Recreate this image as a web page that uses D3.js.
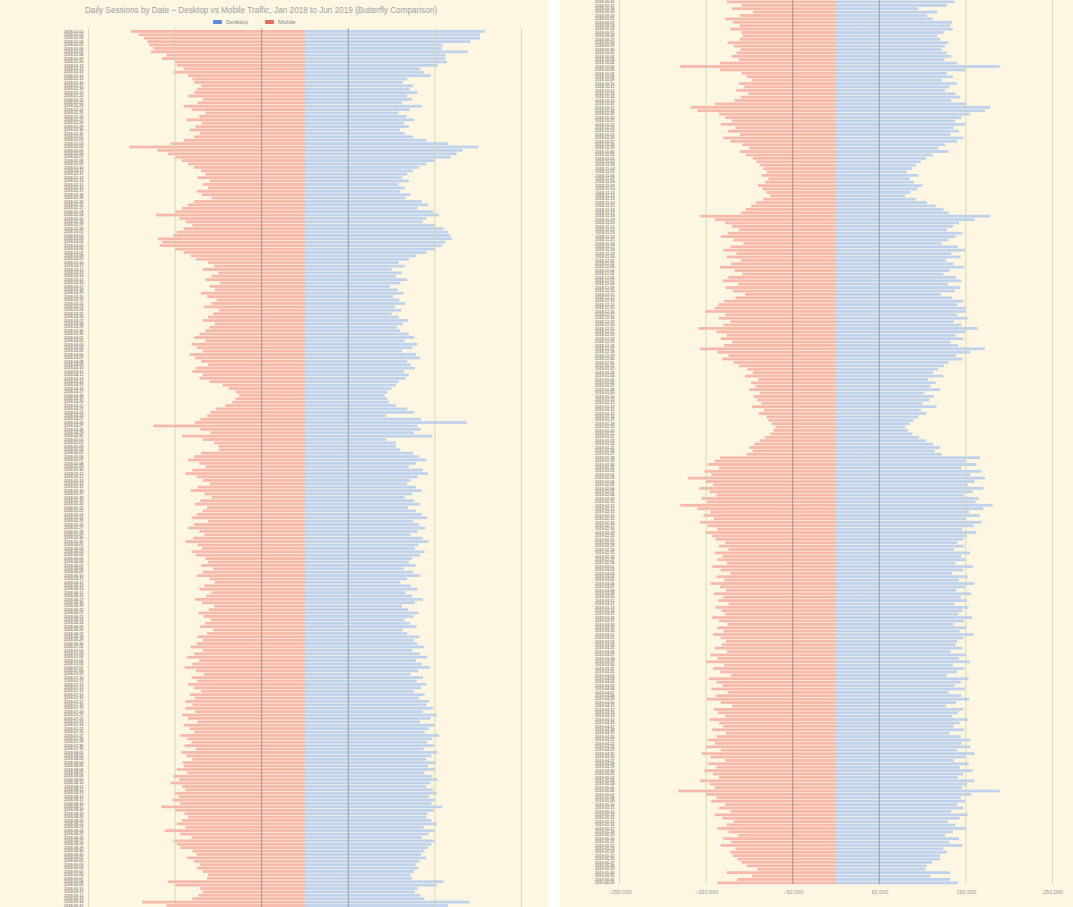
<!DOCTYPE html>
<html>
<head>
<meta charset="utf-8">
<script src="https://cdn.jsdelivr.net/npm/d3@7"></script>
<style>
    body { margin: 0; background: #ffffff; }
    #wrap { position: relative; width: 1073px; height: 907px; overflow: hidden; }
    #wrap svg { position: absolute; top: 0; }
    text { font-family: "Liberation Sans", Arial, sans-serif; }
</style>
</head>
<body>
<div id="wrap">
    <svg id="left" style="left:0"></svg>
    <svg id="right" style="left:560px"></svg>
</div>
<script>
// chart title and series names
var title = 'Daily Sessions by Date \u2013 Desktop vs Mobile Traffic, Jan 2018 to Jun 2019 (Butterfly Comparison)';
var seriesNames = ['Desktop', 'Mobile'];
var firstDay = '2018-01-01';

// values in thousands of sessions per day (blue, right side)
var desktop = [
    208, 202, 202, 191, 159, 158, 188, 162, 162, 164, 153, 133, 137, 145, 118, 113, 125, 121,
    130, 118, 124, 112, 135, 121, 108, 117, 126, 114, 120, 110,
    115, 125, 140, 165, 200, 182,
    175, 168, 150, 140, 132, 125, 118, 112, 120, 108, 115, 110, 122, 116,
    135, 142, 130, 148, 155, 140, 136, 150, 160, 165, 168, 170, 162, 158, 150, 140, 128, 120,
    108, 115, 100, 112, 105, 118, 110, 98, 107, 114, 102, 109, 116, 104, 111, 100, 108, 119, 113, 106, 110,
    120, 126, 115, 130, 124, 112, 128, 133, 118, 122, 127, 114, 120, 116, 108,
    105, 100, 95, 92, 95,
    97, 105, 118, 126, 94, 134, 187, 130, 134, 126, 147, 94, 105, 105, 110,
    125, 132, 140, 128, 120, 136, 142, 130, 122, 118, 128, 135, 124, 115, 126, 133, 119,
    128, 135, 141, 125, 132, 139, 130, 122, 136, 143, 131, 127, 138, 133, 124,
    120, 128, 114, 125, 133, 118, 110, 122, 130, 116, 124, 136, 127, 112, 119, 131, 125, 115, 121, 129, 113, 118, 132, 126,
    130, 137, 124, 133, 141, 128, 135, 144, 131, 122, 136, 129, 140, 134, 126, 138, 132, 143,
    140, 148, 136, 152, 145, 133, 150, 143, 138, 155, 147, 141, 149, 137, 153, 146, 140, 151,
    142, 150, 138, 147, 153, 145, 140, 148, 152, 143, 150, 146, 158, 149, 141,
    140, 146, 152, 137, 150, 143, 135,
    150, 146, 142, 138, 134, 140, 132, 128, 131, 126, 122, 124, 160, 152, 130, 127, 133, 138, 190, 165,
    137, 128, 95, 117, 105, 112, 134, 132, 135, 124, 117, 120, 130, 126, 122, 128, 133, 125,
    140, 189, 150,
    128, 135, 122, 140, 131, 126, 138, 143, 133,
    150, 178, 172, 155,
    145, 138, 149, 136, 142, 132, 147, 140,
    126, 118, 130, 112, 104, 98, 92, 88, 82, 95, 85, 90, 100, 94, 86, 80, 92, 105, 115, 124, 130,
    178, 160,
    142, 135, 128, 146, 138, 130, 122, 141, 149, 133, 144, 127, 136, 148, 131, 124, 139, 145, 129, 143, 137, 121, 134, 147, 140,
    150, 149, 140, 152, 136, 145, 164, 150, 138, 147, 132, 141, 172, 155, 139, 146, 130, 125,
    118, 112, 124, 106, 115, 109, 120, 102, 113, 108, 100, 116, 98, 104, 95, 90, 85, 80, 83, 88, 96, 104, 112, 120, 114, 122, 166,
    150, 162, 145, 168, 155, 172, 160, 152, 170, 158, 148, 165, 161, 181, 170, 154, 166, 150, 168, 159, 146, 162, 151, 147,
    140, 148, 136, 155, 145, 150, 138, 158, 147, 134, 152, 142, 160, 149, 139, 156, 144, 151, 137, 153, 146, 141, 157, 148, 136, 150, 143, 159, 147, 140,
    138, 146, 132, 150, 142, 155, 135, 148, 140, 128, 153, 144, 137, 149, 130, 145, 154, 139, 127, 147, 141, 134, 152, 143, 136, 148, 131, 144, 155,
    145, 155, 140, 160, 150, 136, 153, 143, 158, 147, 141, 160, 151, 146, 189, 156, 144, 149,
    140, 147, 133, 152, 143, 129, 138, 150, 135, 126, 142, 131, 146, 124,
    128, 120, 120, 111, 105, 103, 132, 109, 132, 141
];

// values in thousands of sessions per day (red, left side)
var mobile = [
    201, 192, 186, 182, 180, 175, 178, 160, 165, 150, 148, 140, 152, 135, 130, 128, 120, 125,
    128, 135, 118, 124, 140, 131, 115, 122, 137, 119, 126, 133,
    121, 128, 140, 155, 203, 170,
    158, 150, 142, 135, 128, 120, 115, 124, 110, 118, 112, 125, 119, 108,
    128, 135, 142, 150, 172, 145, 138, 130, 140, 148, 152, 170, 165, 168, 150, 140, 132, 126,
    112, 105, 118, 100, 108, 115, 98, 110, 104, 120, 113, 102, 108, 117, 99, 106, 112, 118, 104, 110, 115,
    122, 128, 115, 131, 125, 118, 133, 127, 120, 112, 126, 130, 118, 122, 110,
    95, 88, 80, 76, 80,
    84, 92, 103, 109, 113, 121, 127, 175, 121, 109, 142, 118, 105, 100, 99,
    120, 128, 135, 122, 115, 130, 138, 125, 118, 110, 124, 132, 116, 108, 121, 127, 113,
    118, 125, 131, 112, 128, 135, 122, 116, 129, 138, 124, 119, 131, 126, 115,
    112, 120, 106, 118, 125, 110, 104, 116, 122, 108, 114, 127, 119, 105, 111, 123, 117, 109, 115, 121, 106, 113, 124, 118,
    125, 132, 118, 128, 136, 122, 130, 139, 126, 117, 131, 124, 135, 128, 120, 133, 127, 138,
    130, 138, 127, 142, 135, 124, 140, 133, 128, 144, 136, 131, 139, 126, 143, 137, 130, 141,
    140, 148, 136, 152, 145, 155, 142, 138, 150, 146, 153, 144, 166, 150, 139,
    135, 142, 148, 138, 162, 144, 131,
    152, 148, 144, 130, 125, 136, 128, 121, 125, 118, 112, 113, 158, 150, 121, 118, 123, 130, 188, 160,
    126, 109, 120, 96, 111, 128, 119, 111, 122, 109, 108, 111, 125, 118, 110, 115, 120, 112,
    134, 180, 134,
    109, 103, 97, 112, 106, 115, 101, 110, 117,
    140, 168, 160, 135,
    128, 120, 133, 116, 125, 111, 130, 122,
    108, 100, 111, 104, 96, 92, 88, 84, 80, 86, 78, 82, 90, 85, 80, 76, 84, 92, 98, 104, 110,
    157, 140,
    128, 120, 112, 125, 133, 118, 107, 122, 130, 115, 126, 110, 121, 134, 117, 108, 124, 131, 113, 127, 119, 105, 116, 129, 136,
    140, 151, 128, 135, 122, 130, 159, 138, 126, 133, 120, 129, 157, 137, 124, 131, 118, 112,
    102, 96, 105, 90, 98, 93, 100, 88, 95, 91, 86, 97, 83, 89, 80, 78, 74, 70, 72, 76, 82, 88, 94, 100, 96, 103, 134,
    140, 148, 135, 152, 144, 171, 150, 142, 158, 146, 138, 155, 149, 180, 160, 145, 153, 141, 157, 148, 137, 150, 143, 139,
    128, 135, 124, 140, 131, 137, 126, 143, 133, 122, 138, 129, 145, 134, 127, 141, 130, 136, 124, 139, 132, 128, 143, 135, 125, 137, 130, 142, 133, 127,
    132, 140, 126, 145, 137, 150, 129, 142, 134, 121, 147, 138, 131, 144, 125, 139, 149, 133, 120, 141, 136, 128, 146, 135, 130, 143, 127, 138, 148,
    140, 150, 133, 155, 145, 128, 148, 138, 152, 142, 135, 157, 146, 140, 182, 150, 138, 144,
    128, 135, 122, 140, 131, 118, 126, 137, 124, 113, 130, 121, 133, 116,
    122, 119, 114, 109, 103, 91, 126, 97, 114, 137
];

// x axis ticks, thousands
var xTicks = [-250, -150, -50, 50, 150, 250];

var n = Math.min(desktop.length, mobile.length);
var parseDay = d3.timeParse('%Y-%m-%d');
var fmtDay = d3.timeFormat('%Y-%m-%d');
var days = d3.range(n).map(function(i) { return fmtDay(d3.timeDay.offset(parseDay(firstDay), i)); });
var rows = days.map(function(d, i) { return {day: d, desktop: desktop[i], mobile: mobile[i]}; });

var colors = {desktop: '#bed1ed', mobile: '#f6b8aa', desktopKey: '#5b8bd8', mobileKey: '#e06c5c'};

// one tall chart, cut into two columns at chart y = 907
var split = 907;
var x = d3.scaleLinear().domain([-250, 276]).range([88.5, 544]);
var y = d3.scaleBand().domain(days).range([30, 30 + n * 3.4]).paddingInner(0.2);
var bottom = 30 + n * 3.4;

function drawChart(svg, panelWidth, dx, dy, part, yTop, yBottom) {
    var shown = rows.filter(function(d) {
        var c = y(d.day) + y.bandwidth() / 2;
        return part === 0 ? c < split : c >= split;
    });

    svg.attr('width', panelWidth).attr('height', 907);
    svg.append('rect')
        .attr('width', panelWidth)
        .attr('height', 907)
        .attr('fill', '#fdf6e3');

    var g = svg.append('g').attr('transform', 'translate(' + dx + ',' + dy + ')');

    if (part === 0) {
        // title
        g.append('text')
            .attr('x', 261)
            .attr('y', 13)
            .attr('text-anchor', 'middle')
            .attr('font-size', '8.2px')
            .attr('fill', '#a0a0a0')
            .text(title);

        // legend
        var legend = g.append('g').attr('transform', 'translate(213,20)');
        [[seriesNames[0], colors.desktopKey], [seriesNames[1], colors.mobileKey]].forEach(function(item, i) {
            var lg = legend.append('g').attr('transform', 'translate(' + (i * 52) + ',0)');
            lg.append('rect')
                .attr('width', 9).attr('height', 4).attr('rx', 1)
                .attr('fill', item[1]);
            lg.append('text')
                .attr('x', 13).attr('y', 4.2)
                .attr('font-size', '6px')
                .attr('fill', '#8a8a8a')
                .text(item[0]);
        });
    }

    // mobile bars (left)
    g.append('g').selectAll('rect')
        .data(shown)
        .join('rect')
        .attr('x', function(d) { return x(-d.mobile); })
        .attr('y', function(d) { return y(d.day); })
        .attr('width', function(d) { return x(0) - x(-d.mobile); })
        .attr('height', y.bandwidth())
        .attr('fill', colors.mobile);

    // desktop bars (right)
    g.append('g').selectAll('rect')
        .data(shown)
        .join('rect')
        .attr('x', x(0))
        .attr('y', function(d) { return y(d.day); })
        .attr('width', function(d) { return x(d.desktop) - x(0); })
        .attr('height', y.bandwidth())
        .attr('fill', colors.desktop);

    // grid lines on top of the bars
    g.append('g').selectAll('line')
        .data(xTicks)
        .join('line')
        .attr('x1', function(d) { return x(d); })
        .attr('x2', function(d) { return x(d); })
        .attr('y1', yTop)
        .attr('y2', yBottom)
        .attr('stroke', function(d) { return Math.abs(d) === 50 ? '#6f7464' : '#cdd3a8'; })
        .attr('stroke-opacity', function(d) { return Math.abs(d) === 50 ? 0.75 : 1; })
        .attr('stroke-width', 0.8);

    // y axis: day labels
    var yAxis = g.append('g')
        .attr('transform', 'translate(' + x(-250) + ',0)')
        .call(d3.axisLeft(y)
            .tickValues(shown.map(function(d) { return d.day; }))
            .tickSize(0).tickPadding(5));
    yAxis.select('.domain').remove();
    yAxis.selectAll('text')
        .attr('font-size', '3.8px')
        .attr('fill', '#555555');

    if (part === 1) {
        // x axis
        var xAxis = g.append('g')
            .attr('transform', 'translate(0,' + (bottom + 3) + ')')
            .call(d3.axisBottom(x).tickValues(xTicks).tickSize(0).tickPadding(3)
                .tickFormat(function(d) { return d3.format(',')(d * 1000); }));
        xAxis.select('.domain').remove();
        xAxis.selectAll('text')
            .attr('font-size', '5.5px')
            .attr('fill', '#9a9a9a');
    }
}

drawChart(d3.select('#left'), 548, 0, 0, 0, 28, split);
drawChart(d3.select('#right'), 513, -29, -split, 1, split, bottom);
</script>
</body>
</html>
